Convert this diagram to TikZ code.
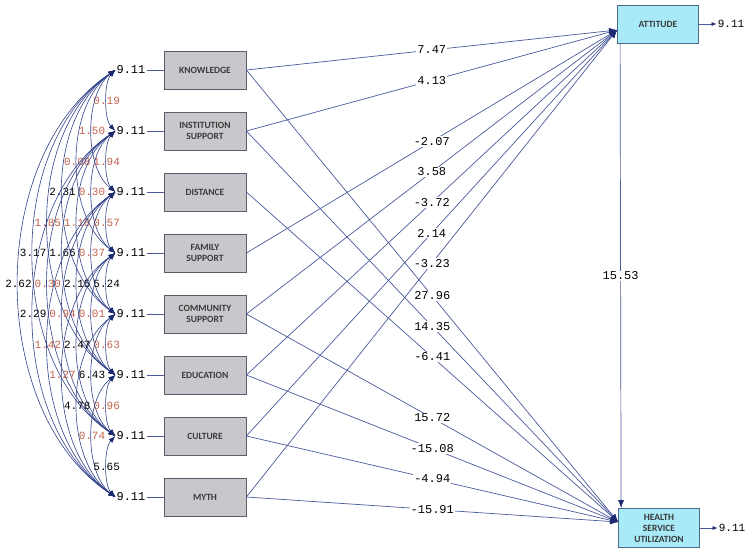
\documentclass[tikz,border=0pt]{standalone}
\usepackage{fontspec}
\setmainfont{Carlito}
\newfontfamily\monofont{Liberation Mono}
\usepackage{tikz}
\usetikzlibrary{arrows.meta}

\definecolor{boxgray}{HTML}{C9C7CB}
\definecolor{boxedge}{HTML}{5C5C68}
\definecolor{boxcyan}{HTML}{A8EAF7}
\definecolor{cyanedge}{HTML}{4C6A8C}
\definecolor{boxtext}{HTML}{3A3A3A}
\definecolor{pathblue}{HTML}{4A5A9C}
\definecolor{arcblue}{HTML}{33438C}
\definecolor{tipnavy}{HTML}{1C2A70}
\definecolor{covred}{HTML}{C4634F}

\begin{document}
\begin{tikzpicture}[x=1pt, y=-1pt,
    exo/.style={draw=boxedge, fill=boxgray, line width=0.8pt, minimum width=82pt,
        minimum height=38pt, align=center, text=boxtext,
        font=\fontsize{9.5}{11}\selectfont\bfseries},
    endo/.style={exo, draw=cyanedge, fill=boxcyan, minimum width=81pt},
    var/.style={inner sep=1pt, font=\fontsize{12}{12}\selectfont\monofont},
    link/.style={draw=pathblue, line width=0.7pt},
    effect/.style={link, -{Latex[length=8pt, width=6pt, color=tipnavy]}},
    cov/.style={draw=arcblue, line width=0.6pt,
        {Latex[length=7pt, width=5pt, color=tipnavy]}-{Latex[length=7pt, width=5pt, color=tipnavy]}},
    coef/.style={fill=white, inner sep=1pt, font=\fontsize{12}{12}\selectfont\monofont},
    covlab/.style={inner sep=0pt, font=\fontsize{11}{11}\selectfont\monofont}]

    \fill[white] (0,0) rectangle (753,555);
    \useasboundingbox (0,0) rectangle (753,555);

    % exogenous variables with their variances
    \foreach \k/\name/\txt in {1/know/KNOWLEDGE, 2/inst/{INSTITUTION\\SUPPORT},
        3/dist/DISTANCE, 4/fam/{FAMILY\\SUPPORT}, 5/comm/{COMMUNITY\\SUPPORT},
        6/edu/EDUCATION, 7/cult/CULTURE, 8/myth/MYTH} {
        \node[exo] (\name) at (205, 9+61*\k) {\txt};
        \node[var] (v\k) at (131, 9+61*\k) {9.11};
        \draw[link] (v\k) -- (\name);
    }

    % outcomes
    \node[endo] (att) at (658,24) {ATTITUDE};
    \node[endo, minimum height=39pt] (hsu) at (659,528) {HEALTH\\SERVICE\\UTILIZATION};
    \node[var, font=\fontsize{11}{11}\selectfont\monofont] (eatt) at (731,24) {9.11};
    \node[var, font=\fontsize{11}{11}\selectfont\monofont] (ehsu) at (732,528) {9.11};
    \draw[link, -{Latex[length=5pt, width=4pt, color=tipnavy]}] (att.east) -- (eatt.west);
    \draw[link, -{Latex[length=5pt, width=4pt, color=tipnavy]}] (hsu.east) -- (ehsu.west);

    \coordinate (attin) at ([yshift=-6pt]att.west);
    \coordinate (hsuin) at ([yshift=6pt]hsu.west);

    % paths to attitude
    \draw[effect] (know.east) -- node[coef] {7.47} (attin);
    \draw[effect] (inst.east) -- node[coef] {4.13} (attin);
    \draw[effect] (fam.east) -- node[coef] {-2.07} (attin);
    \draw[effect] (comm.east) -- node[coef] {3.58} (attin);
    \draw[effect] (edu.east) -- node[coef] {-3.72} (attin);
    \draw[effect] (cult.east) -- node[coef] {2.14} (attin);
    \draw[effect] (myth.east) -- node[coef] {-3.23} (attin);

    % paths to health service utilization
    \draw[effect] (know.east) -- node[coef] {27.96} (hsuin);
    \draw[effect] (inst.east) -- node[coef] {14.35} (hsuin);
    \draw[effect] (dist.east) -- node[coef] {-6.41} (hsuin);
    \draw[effect] (comm.east) -- node[coef] {15.72} (hsuin);
    \draw[effect] (edu.east) -- node[coef] {-15.08} (hsuin);
    \draw[effect] (cult.east) -- node[coef] {-4.94} (hsuin);
    \draw[effect] (myth.east) -- node[coef] {-15.91} (hsuin);

    \draw[effect] ([xshift=3pt]att.south west) -- node[coef] {15.53} ([xshift=3pt]hsu.north west);

    % covariances
    \foreach \i/\j/\val/\col in {1/2/0.19/covred, 1/3/1.50/covred, 1/4/0.08/covred,
        1/5/2.31/black, 1/6/1.85/covred, 1/7/3.17/black, 1/8/2.62/black,
        2/3/1.94/covred, 2/4/0.30/covred, 2/5/1.18/covred, 2/6/1.66/black,
        2/7/0.30/covred, 2/8/2.29/black,
        3/4/0.57/covred, 3/5/0.37/covred, 3/6/2.15/black, 3/7/0.94/covred, 3/8/1.42/covred,
        4/5/5.24/black, 4/6/0.01/covred, 4/7/2.47/black, 4/8/1.27/covred,
        5/6/0.63/covred, 5/7/6.43/black, 5/8/4.78/black,
        6/7/0.96/covred, 6/8/0.74/covred, 7/8/5.65/black} {
        \pgfmathsetmacro{\dx}{8-19.6*(\j-\i)}
        \pgfmathsetmacro{\dd}{12.2*(\j-\i)}
        \draw[cov] (v\i.west) .. controls +(\dx,\dd) and +(\dx,-\dd) .. node[covlab, text=\col] {\val} (v\j.west);
    }
\end{tikzpicture}
\end{document}
